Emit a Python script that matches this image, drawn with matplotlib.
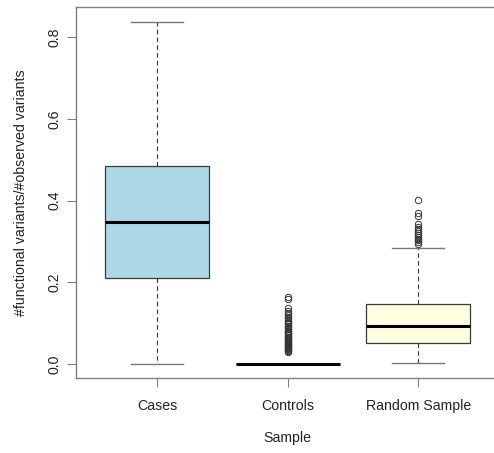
import numpy as np
import matplotlib
matplotlib.use("Agg")
import matplotlib.pyplot as plt

plt.rcParams['font.family'] = ['Liberation Sans', 'DejaVu Sans']

# box statistics
labels = ["Cases", "Controls", "Random Sample"]
medians = [0.348, 0.0, 0.092]
q1s = [0.210, 0.0, 0.051]
q3s = [0.484, 0.0, 0.146]
whis_lo = [0.0, 0.0, 0.003]
whis_hi = [0.838, 0.0, 0.283]
box_colors = ["#ADD8E6", "#FFFFFF", "#FFFFE0"]

controls_out = [0.165, 0.158, 0.136, 0.130, 0.125, 0.120, 0.116, 0.112, 0.108,
                0.104, 0.100, 0.097, 0.094, 0.091, 0.088, 0.085, 0.082, 0.080,
                0.077, 0.075, 0.072, 0.070, 0.067, 0.065, 0.063, 0.060, 0.058,
                0.056, 0.054, 0.052, 0.050, 0.048, 0.046, 0.044, 0.042, 0.040,
                0.038, 0.036, 0.034, 0.032, 0.030]
random_out = [0.401, 0.370, 0.362, 0.343, 0.336, 0.330, 0.325, 0.320, 0.315,
              0.311, 0.307, 0.303, 0.299, 0.295]
fliers = [[], controls_out, random_out]

stats = []
for i in range(len(labels)):
    stats.append(dict(label=labels[i], med=medians[i], q1=q1s[i], q3=q3s[i],
                      whislo=whis_lo[i], whishi=whis_hi[i], fliers=fliers[i]))

fig = plt.figure(figsize=(4.94, 4.53), dpi=100)
W, H = 494, 453
x0, x1 = 76.4, 499.0
y0, y1 = 7.4, 377.7
ax = fig.add_axes([x0 / W, 1 - y1 / H, (x1 - x0) / W, (y1 - y0) / H])

bp = ax.bxp(stats, positions=[1, 2, 3], widths=0.8, capwidths=0.4,
            patch_artist=True,
            boxprops=dict(edgecolor="#3a3a3a", linewidth=0.9),
            medianprops=dict(color="black", linewidth=2.2, solid_capstyle="butt"),
            whiskerprops=dict(color="#333333", linewidth=0.8, linestyle=(0, (4, 3))),
            capprops=dict(color="#777777", linewidth=1.0),
            flierprops=dict(marker="o", markersize=4.6, markerfacecolor="none",
                            markeredgecolor="#333333", markeredgewidth=0.7))
for patch, c in zip(bp["boxes"], box_colors):
    patch.set_facecolor(c)

ax.set_xlim(0.38, 3.62)
ax.set_ylim(-0.0336, 0.8736)
ax.set_yticks([0.0, 0.2, 0.4, 0.6, 0.8])
ax.set_yticklabels(["0.0", "0.2", "0.4", "0.6", "0.8"], rotation=90, va="center")
ax.set_xticks([1, 2, 3])
ax.set_xticklabels(labels)

for s in ax.spines.values():
    s.set_color("#808080")
    s.set_linewidth(1.0)
ax.tick_params(axis="both", direction="out", length=6.5, width=0.8,
               color="#808080", labelsize=10.2, labelcolor="#222222")
ax.tick_params(axis="y", pad=4.5)
ax.tick_params(axis="x", pad=9)

ax.set_xlabel("Sample", fontsize=10.2, color="#222222", labelpad=13)
ax.set_ylabel("#functional variants/#observed variants", fontsize=10.2,
              color="#222222", labelpad=14)

fig.savefig("out.png", dpi=100)
